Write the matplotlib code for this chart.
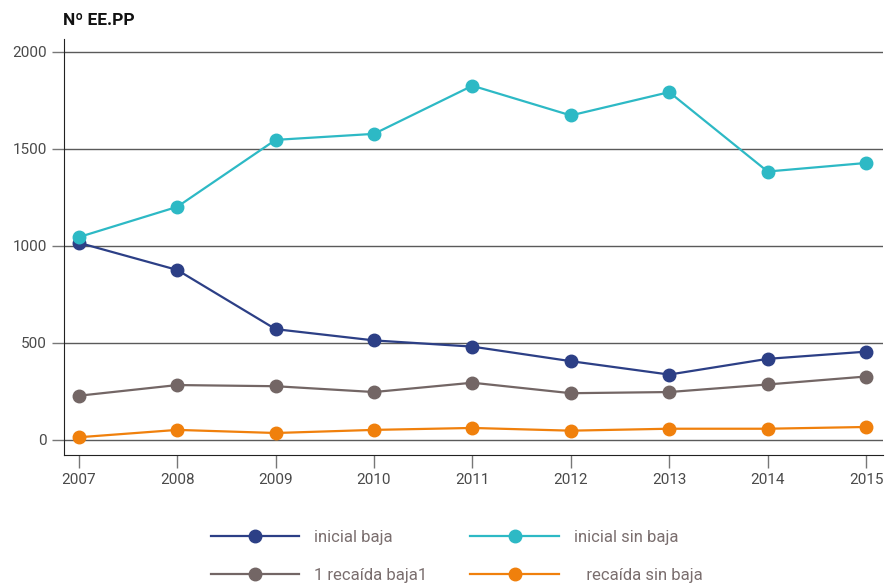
import matplotlib.pyplot as plt

plt.rcParams['font.family'] = ['Roboto', 'DejaVu Sans']

years = [2007, 2008, 2009, 2010, 2011, 2012, 2013, 2014, 2015]
inicial_baja = [1016, 876, 571, 513, 481, 406, 337, 418, 455]
inicial_sin_baja = [1045, 1201, 1546, 1577, 1825, 1672, 1792, 1383, 1427]
recaida_baja = [228, 283, 277, 247, 295, 241, 247, 286, 327]
recaida_sin_baja = [14, 52, 36, 52, 62, 48, 58, 58, 67]

c_blue = '#2c3f86'
c_cyan = '#2db9c5'
c_grey = '#736665'
c_orange = '#f0800c'

fig = plt.figure(figsize=(8.89, 5.84), dpi=100)
ax = fig.add_axes([0.072, 0.221, 0.921, 0.712])

ax.set_axisbelow(True)
ax.yaxis.grid(True, color='#5a5a5a', linewidth=1)

kw = dict(marker='o', markersize=9, linewidth=1.6)
l1, = ax.plot(years, inicial_baja, color=c_blue, label='inicial baja', **kw)
l3, = ax.plot(years, recaida_baja, color=c_grey, label='1 recaída baja1', **kw)
l4, = ax.plot(years, recaida_sin_baja, color=c_orange, label='   recaída sin baja', **kw)
l2, = ax.plot(years, inicial_sin_baja, color=c_cyan, label='inicial sin baja', **kw)

ax.set_xlim(2006.85, 2015.17)
ax.set_ylim(-77, 2065)
ax.set_xticks(years)
ax.set_yticks([0, 500, 1000, 1500, 2000])

for s in ['top', 'right']:
    ax.spines[s].set_visible(False)
ax.spines['left'].set_color('#222222')
ax.spines['bottom'].set_color('#222222')
ax.tick_params(axis='both', colors='#777777', labelcolor='#4a4a4a',
               labelsize=11, length=9, width=1)
ax.tick_params(axis='x', pad=4)

fig.text(0.071, 0.965, 'Nº EE.PP', fontsize=12.5, fontweight='semibold',
         color='#111111', va='center', ha='left')

leg = fig.legend(handles=[l1, l3, l2, l4], ncol=2, loc='center',
                 bbox_to_anchor=(0.5135, 0.047), frameon=False, fontsize=12,
                 handlelength=5.3, handletextpad=0.9, columnspacing=2.6,
                 labelspacing=1.4)
for t in leg.get_texts():
    t.set_color('#7a6e6e')

fig.savefig('out.png', dpi=100)
